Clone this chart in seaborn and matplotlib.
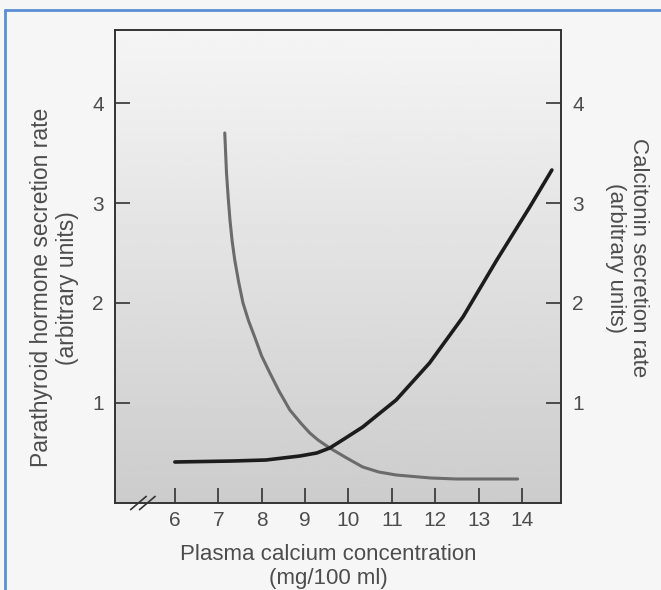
import numpy as np
import pandas as pd
import matplotlib
matplotlib.use("Agg")
import matplotlib.pyplot as plt
import seaborn as sns

# values
pth_x = [7.15, 7.19, 7.23, 7.27, 7.32, 7.38, 7.47, 7.57, 7.70, 7.84, 8.00, 8.19, 8.40, 8.65, 8.90, 9.11, 9.30, 9.57, 9.96, 10.33, 10.70, 11.10, 11.90, 12.50, 13.20, 13.90]
pth_y = [3.70, 3.30, 3.05, 2.83, 2.62, 2.43, 2.21, 2.00, 1.82, 1.66, 1.47, 1.30, 1.12, 0.93, 0.80, 0.70, 0.63, 0.55, 0.45, 0.36, 0.31, 0.28, 0.25, 0.24, 0.24, 0.24]

cal_x = [6.0, 7.34, 8.1, 8.88, 9.27, 9.57, 9.90, 10.33, 10.70, 11.10, 11.87, 12.64, 13.42, 14.18, 14.69]
cal_y = [0.41, 0.42, 0.43, 0.47, 0.50, 0.55, 0.64, 0.76, 0.89, 1.03, 1.40, 1.86, 2.43, 2.96, 3.33]

x_ticks = [6, 7, 8, 9, 10, 11, 12, 13, 14]
y_ticks = [1, 2, 3, 4]

pth = pd.DataFrame({"calcium": pth_x, "rate": pth_y})
cal = pd.DataFrame({"calcium": cal_x, "rate": cal_y})

sns.set_style("ticks")
plt.rcParams["font.family"] = ["Liberation Sans", "DejaVu Sans"]
text_col = "#4d4d4d"

fig = plt.figure(figsize=(6.61, 5.90), dpi=100)
fig.patch.set_facecolor("#f6f6f6")

# blue frame of the screenshot
fig.add_artist(plt.Line2D([5 / 661, 5 / 661], [0, 1 - 10 / 590], transform=fig.transFigure, color="#5b8fd4", lw=2))
fig.add_artist(plt.Line2D([5 / 661, 1], [1 - 10 / 590, 1 - 10 / 590], transform=fig.transFigure, color="#5b8fd4", lw=2))

ax = fig.add_axes([115 / 661, 1 - 503 / 590, 446 / 661, 473 / 590])
ax.set_xlim(4.62, 14.9)
ax.set_ylim(0, 4.73)

# shaded paper, light at the top, grey at the bottom
grad = np.linspace(0.80, 0.96, 256).reshape(-1, 1)
ax.imshow(grad, extent=[0, 1, 0, 1], transform=ax.transAxes, cmap="gray",
          vmin=0, vmax=1, aspect="auto", origin="lower", zorder=0)

sns.lineplot(data=pth, x="calcium", y="rate", ax=ax, color="#6b6b6b", lw=2.2, zorder=3)

ax2 = ax.twinx()
ax2.set_ylim(0, 4.73)
sns.lineplot(data=cal, x="calcium", y="rate", ax=ax2, color="#1c1c1c", lw=2.6, zorder=3)

for a in (ax, ax2):
    for s in a.spines.values():
        s.set_color("#333333")
        s.set_linewidth(1.2)

ax.set_xticks(x_ticks)
ax.set_xticklabels([str(v) for v in x_ticks], fontsize=15, color=text_col)
ax.set_yticks(y_ticks)
ax.set_yticklabels([str(v) for v in y_ticks], fontsize=15, color=text_col)
ax2.set_yticks(y_ticks)
ax2.set_yticklabels([str(v) for v in y_ticks], fontsize=15, color=text_col)

ax.tick_params(axis="x", direction="in", length=11, width=1.2, color="#333333", pad=6)
ax.tick_params(axis="y", direction="in", length=11, width=1.2, color="#333333", pad=8)
ax2.tick_params(axis="y", direction="in", length=11, width=1.2, color="#333333", pad=8)

ax.set_xlabel("Plasma calcium concentration\n(mg/100 ml)", fontsize=16, color=text_col, linespacing=1.15)
ax.xaxis.set_label_coords(0.478, -0.087)
ax.set_ylabel("Parathyroid hormone secretion rate\n(arbitrary units)", fontsize=16.5, color=text_col, linespacing=1.15)
ax.yaxis.set_label_coords(-0.081, 0.455)
ax2.set_ylabel("Calcitonin secretion rate\n(arbitrary units)", fontsize=16, color=text_col,
               rotation=270, va="bottom", linespacing=1.15)
ax2.yaxis.set_label_coords(1.098, 0.518)

# axis break marks on the x axis
for dx in (0.0, 0.02):
    ax.plot([0.035 + dx, 0.07 + dx], [-0.014, 0.014], transform=ax.transAxes,
            color="#333333", lw=1.2, clip_on=False, zorder=5)

fig.savefig("out.png", dpi=100, facecolor=fig.get_facecolor())
